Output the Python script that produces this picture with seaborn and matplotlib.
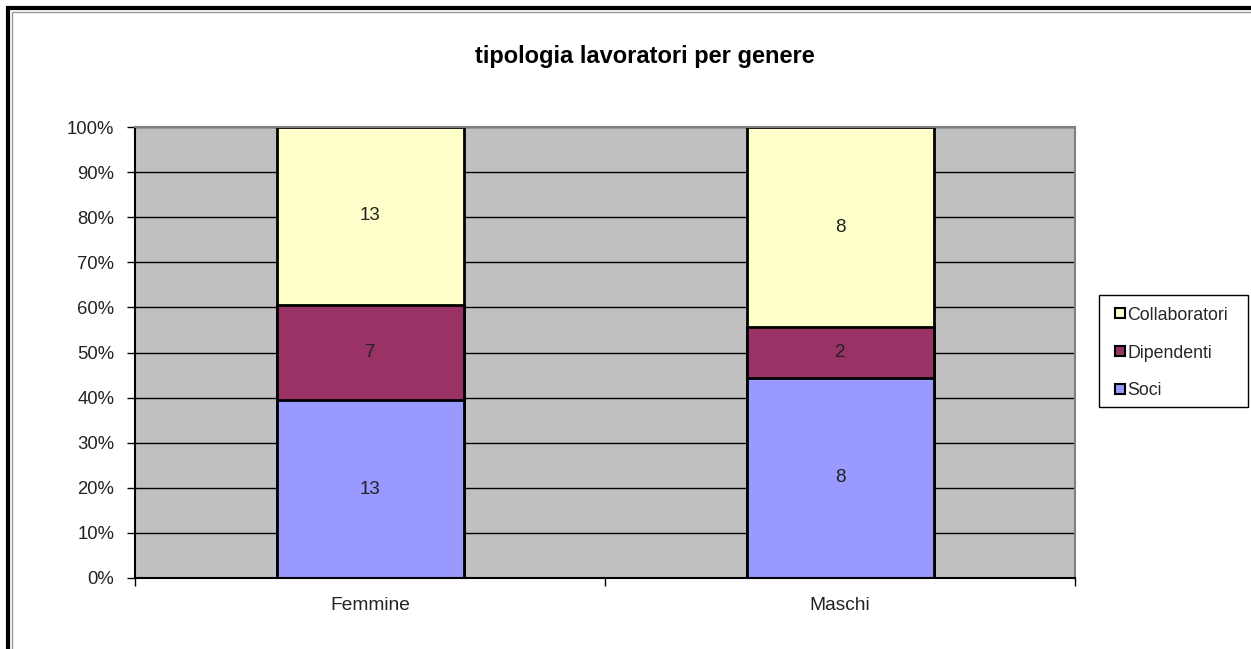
import matplotlib
matplotlib.use("Agg")
import matplotlib.pyplot as plt
import seaborn as sns
import pandas as pd
import numpy as np
from matplotlib.patches import Rectangle
from matplotlib.lines import Line2D

categories = ["Femmine", "Maschi"]
soci = [13, 8]
dipendenti = [7, 2]
collaboratori = [13, 8]
series_names = ["Soci", "Dipendenti", "Collaboratori"]
series_colors = ["#9999FF", "#993366", "#FFFFCC"]
yticks_labels = ["0%", "10%", "20%", "30%", "40%", "50%", "60%", "70%", "80%", "90%", "100%"]
title = "tipologia lavoratori per genere"

sns.set_style("white")
plt.rcParams["font.family"] = ["Liberation Sans", "DejaVu Sans"]

tot = np.array(soci) + np.array(dipendenti) + np.array(collaboratori)
p_soci = np.array(soci) / tot * 100
p_dip = np.array(dipendenti) / tot * 100
p_col = np.array(collaboratori) / tot * 100

df = pd.DataFrame({
    "cat": categories,
    "l1": p_soci,
    "l2": p_soci + p_dip,
    "l3": p_soci + p_dip + p_col,
})

fig = plt.figure(figsize=(12.51, 6.49), dpi=100)
ax = fig.add_axes([135 / 1251, 1 - 578 / 649, 940 / 1251, 451 / 649])
ax.set_facecolor("#C0C0C0")

# gridlines
for v in range(10, 101, 10):
    ax.axhline(v, color="black", lw=1, zorder=0.5)

bw = 187 / 470
for col, c in zip(["l3", "l2", "l1"], series_colors[::-1]):
    sns.barplot(data=df, x="cat", y=col, color=c, width=bw, edgecolor="black",
                linewidth=2, saturation=1, ax=ax, zorder=2)

# data labels
lab_kw = dict(ha="center", va="center", fontsize=13.5, color="#222222", zorder=5)
for i in range(len(categories)):
    ax.text(i, p_soci[i] / 2, str(soci[i]), **lab_kw)
    ax.text(i, p_soci[i] + p_dip[i] / 2, str(dipendenti[i]), **lab_kw)
    ax.text(i, p_soci[i] + p_dip[i] + p_col[i] / 2, str(collaboratori[i]), **lab_kw)

ax.set_xlim(-0.5, 1.5)
ax.set_ylim(0, 100)
ax.set_yticks(range(0, 101, 10))
ax.set_yticklabels(yticks_labels, fontsize=13.3, color="#222222")
ax.set_xticks([0, 1])
ax.set_xticklabels(categories, fontsize=13.8, color="#222222")
ax.tick_params(axis="x", length=0, pad=14)
ax.tick_params(axis="y", length=6, width=1, color="black", direction="out", left=True, pad=9)
ax.set_xticks([-0.5, 0.5, 1.5], minor=True)
ax.tick_params(axis="x", which="minor", length=6, width=1, color="black", direction="out", bottom=True)
ax.set_xlabel("")
ax.set_ylabel("")

for s in ["top", "right"]:
    ax.spines[s].set_color("#808080")
    ax.spines[s].set_linewidth(1.5)
for s in ["left", "bottom"]:
    ax.spines[s].set_color("black")
    ax.spines[s].set_linewidth(1.5)
    ax.spines[s].set_visible(True)

fig.text(645 / 1251, 1 - 56 / 649, title, ha="center", va="center", fontsize=17, fontweight="bold", color="black")

# legend frame
fig.patches.append(Rectangle((1099 / 1251, 1 - 407 / 649), 149 / 1251, 112 / 649,
                             transform=fig.transFigure, facecolor="white", edgecolor="black",
                             lw=1, zorder=1))
handles = [Line2D([], [], marker="s", linestyle="none", markersize=7, markerfacecolor=c,
                  markeredgecolor="black", markeredgewidth=1.5)
           for c in series_colors[::-1]]
leg = fig.legend(handles, series_names[::-1], loc="center left",
                 bbox_to_anchor=(1113 / 1251, 1 - 353 / 649), frameon=False,
                 fontsize=12.8, handlelength=0.8, handletextpad=0.0,
                 labelspacing=1.17, borderpad=0.0, borderaxespad=0)
leg.set_zorder(5)

# outer frame
fig.patches.append(Rectangle((8 / 1251, -0.1), 1.2, 1 - 8 / 649 + 0.1, transform=fig.transFigure,
                             fill=False, edgecolor="black", lw=3, zorder=10))
fig.patches.append(Rectangle((12 / 1251, -0.1), 1.2, 1 - 12 / 649 + 0.1, transform=fig.transFigure,
                             fill=False, edgecolor="#999999", lw=1, zorder=10))

fig.savefig("out.png", dpi=100)
